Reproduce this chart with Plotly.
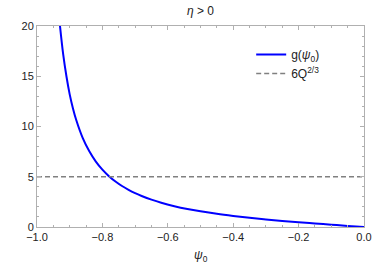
import plotly.graph_objects as go

psi0 = [-0.93, -0.92, -0.91, -0.90, -0.89, -0.88, -0.86, -0.84, -0.82, -0.80,
        -0.78, -0.76, -0.74, -0.72, -0.70, -0.68, -0.65, -0.62, -0.58, -0.54,
        -0.50, -0.45, -0.40, -0.35, -0.30, -0.25, -0.20, -0.15, -0.10, -0.05, 0.0]
g_vals = [20.1, 17.2, 15.0, 13.2, 11.8, 10.65, 8.85, 7.53, 6.51, 5.71,
          5.06, 4.53, 4.08, 3.70, 3.37, 3.09, 2.72, 2.41, 2.07, 1.79,
          1.56, 1.31, 1.10, 0.91, 0.75, 0.60, 0.47, 0.35, 0.23, 0.11, 0.0]
threshold = 5.0
x_range = [-1.0, 0.0]
y_range = [0, 20]
x_ticks = [-1.0, -0.8, -0.6, -0.4, -0.2, 0.0]
y_ticks = [0, 5, 10, 15, 20]

fig = go.Figure()
fig.add_trace(go.Scatter(x=psi0, y=g_vals, mode="lines", line=dict(color="#0000ff", width=2),
                         line_shape="spline", name="g(<i>ψ</i><sub>0</sub>)"))
fig.add_trace(go.Scatter(x=x_range, y=[threshold, threshold], mode="lines",
                         line=dict(color="#808080", width=1.6, dash="5px,3px"),
                         name="6Q<sup>2/3</sup>"))

axis_common = dict(showline=True, linecolor="#b0b0b0", linewidth=1, mirror="allticks",
                   ticks="inside", ticklen=4, tickcolor="#b0b0b0", showgrid=False,
                   zeroline=False, automargin=False,
                   tickfont=dict(size=11, color="#222222", family="Liberation Sans"))

fig.update_layout(
    width=374, height=269,
    margin=dict(l=37, r=10, t=26, b=42),
    paper_bgcolor="white", plot_bgcolor="white",
    font=dict(family="Liberation Sans", color="#222222"),
    title=dict(text="<i>η</i> > 0", x=200.5/374, xanchor="center", y=1 - 11/269, yanchor="middle",
               yref="container", font=dict(size=12, color="#222222")),
    showlegend=True,
    legend=dict(x=0.655, y=0.93, xanchor="left", yanchor="top", bgcolor="rgba(0,0,0,0)",
                font=dict(size=12, color="#222222"), tracegroupgap=4),
    xaxis=dict(range=x_range, tickvals=x_ticks, tickformat=".1f",
               minor=dict(dtick=0.05, ticks="inside", ticklen=2, tickcolor="#b0b0b0"),
               **axis_common),
    yaxis=dict(range=y_range, tickvals=y_ticks,
               minor=dict(dtick=1, ticks="inside", ticklen=2, tickcolor="#b0b0b0"),
               **axis_common),
    annotations=[dict(text="<i>ψ</i><sub>0</sub>", xref="paper", yref="paper", x=0.5, y=-29/201,
                      xanchor="center", yanchor="middle", showarrow=False,
                      font=dict(size=12, color="#222222"))],
)

fig.write_html("out.html", config={"displayModeBar": False},
               post_script="document.body.style.margin='0';document.body.style.overflow='hidden';")
